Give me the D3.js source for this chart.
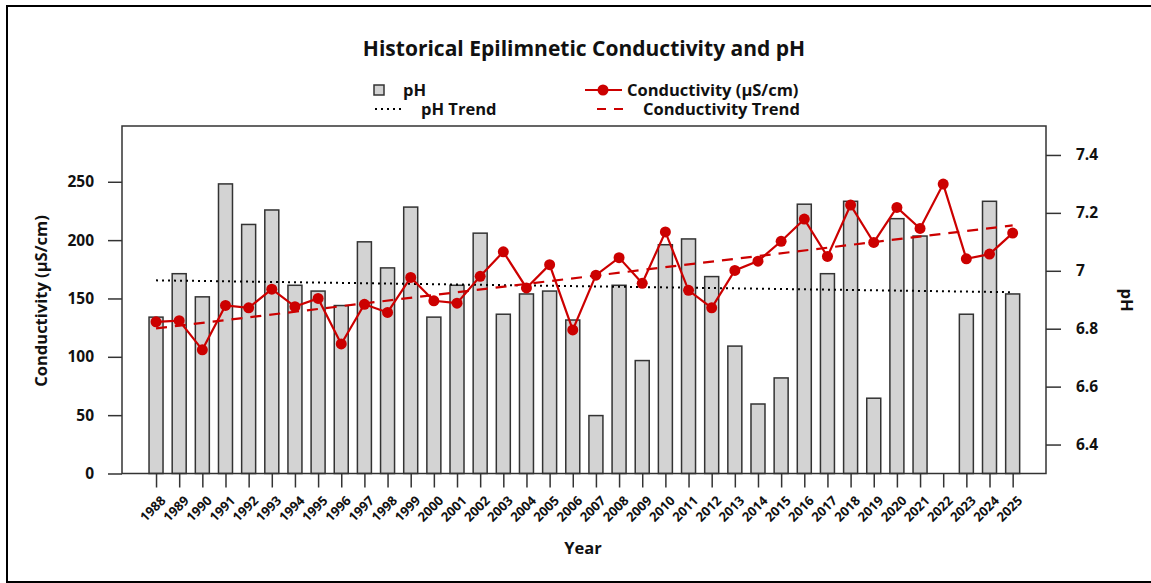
<!DOCTYPE html>
<html>
<head>
<meta charset="utf-8">
<script src="https://cdn.jsdelivr.net/npm/d3@7"></script>
<style>
  body { margin: 0; background: #fff; }
  text { font-family: "Open Sans", "Noto Sans", sans-serif; font-weight: bold; fill: #111; }
</style>
</head>
<body>
<div id="chart"></div>
<script>
// data
const years = d3.range(1988, 2026)
const ph = [6.84, 6.99, 6.91, 7.30, 7.16, 7.21, 6.95, 6.93, 6.88, 7.10, 7.01, 7.22, 6.84,
  6.95, 7.13, 6.85, 6.92, 6.93, 6.83, 6.50, 6.95, 6.69, 7.09, 7.11, 6.98, 6.74, 6.54,
  6.63, 7.23, 6.99, 7.24, 6.56, 7.18, 7.12, null, 6.85, 7.24, 6.92]
const conductivity = [130, 131, 106, 144, 142, 158, 143, 150, 111, 145, 138, 168, 148,
  146, 169, 190, 159, 179, 123, 170, 185, 163, 207, 157, 142, 174, 182,
  199, 218, 186, 230, 198, 228, 210, 248, 184, 188, 206]
// trend end points (1988 and 2025)
const trendYears = [1988, 2025]
const phTrend = [6.967, 6.926]
const condTrend = [124.3, 212.6]
const condTicks = [0, 50, 100, 150, 200, 250]
const phTicks = [6.4, 6.6, 6.8, 7, 7.2, 7.4]

const W = 1151, H = 583
const plot = {left: 122, right: 1046, top: 126, bottom: 473.5}
const red = "#cc0000", axisCol = "#333"

const svg = d3.select("#chart").append("svg")
  .attr("width", W).attr("height", H)

// outer frame
svg.append("rect")
  .attr("x", 7).attr("y", 6).attr("width", W).attr("height", H - 7)
  .attr("fill", "none").attr("stroke", "#000").attr("stroke-width", 2)

const x = d3.scaleLinear().domain([1986.53, 2026.44]).range([plot.left, plot.right])
const yC = d3.scaleLinear().domain([0, 297.8]).range([plot.bottom, plot.top])
const yP = d3.scaleLinear().domain([6.3, 7.5]).range([plot.bottom, plot.top])

// bars (pH)
const phData = years.map((y, i) => ({year: y, v: ph[i]})).filter(d => d.v != null)
svg.append("g").selectAll("rect")
  .data(phData)
  .join("rect")
    .attr("x", d => x(d.year) - 7)
    .attr("y", d => yP(d.v))
    .attr("width", 14)
    .attr("height", d => yP(6.3) - yP(d.v))
    .attr("fill", "#d3d3d3")
    .attr("stroke", axisCol)
    .attr("stroke-width", 1.5)

// pH trend
const trendLine = (sc, vals) => d3.line()
  .x((d, i) => x(trendYears[i]))
  .y(d => sc(d))(vals)

svg.append("path")
  .attr("d", trendLine(yP, phTrend))
  .attr("fill", "none").attr("stroke", "#000")
  .attr("stroke-width", 2).attr("stroke-dasharray", "2,4")

// conductivity trend
svg.append("path")
  .attr("d", trendLine(yC, condTrend))
  .attr("fill", "none").attr("stroke", red)
  .attr("stroke-width", 2.2).attr("stroke-dasharray", "11,8")

// conductivity line + points
const condData = years.map((y, i) => ({year: y, v: conductivity[i]}))
svg.append("path")
  .datum(condData)
  .attr("d", d3.line().x(d => x(d.year)).y(d => yC(d.v)))
  .attr("fill", "none").attr("stroke", red).attr("stroke-width", 2.2)

svg.append("g").selectAll("circle")
  .data(condData)
  .join("circle")
    .attr("cx", d => x(d.year))
    .attr("cy", d => yC(d.v))
    .attr("r", 5.5)
    .attr("fill", red)

// plot box
svg.append("rect")
  .attr("x", plot.left).attr("y", plot.top)
  .attr("width", plot.right - plot.left).attr("height", plot.bottom - plot.top)
  .attr("fill", "none").attr("stroke", axisCol).attr("stroke-width", 1.5)

// axes
const styleAxis = g => {
  g.select(".domain").remove()
  g.selectAll(".tick line").attr("stroke", axisCol).attr("stroke-width", 1.5)
  g.selectAll(".tick text").attr("fill", "#111")
}

svg.append("g")
  .attr("transform", `translate(${plot.left},0)`)
  .call(d3.axisLeft(yC).tickValues(condTicks).tickSize(14).tickPadding(14))
  .call(styleAxis)
  .selectAll(".tick text").style("font-size", "15.5px")

svg.append("g")
  .attr("transform", `translate(${plot.right},0)`)
  .call(d3.axisRight(yP).tickValues(phTicks).tickFormat(d => d).tickSize(15).tickPadding(15))
  .call(styleAxis)
  .selectAll(".tick text").style("font-size", "15.5px")

const xAxis = svg.append("g")
  .attr("transform", `translate(0,${plot.bottom})`)
  .call(d3.axisBottom(x).tickValues(years).tickFormat(d3.format("d")).tickSize(14))
  .call(styleAxis)
xAxis.selectAll(".tick text")
  .style("font-size", "13px")
  .attr("text-anchor", "end")
  .attr("y", 0).attr("dy", 0)
  .attr("transform", "translate(10,28) rotate(-45)")

// titles
svg.append("text")
  .attr("x", 584).attr("y", 56)
  .attr("text-anchor", "middle")
  .style("font-size", "21px")
  .text("Historical Epilimnetic Conductivity and pH")

svg.append("text")
  .attr("x", 583).attr("y", 554)
  .attr("text-anchor", "middle")
  .style("font-size", "16.5px")
  .text("Year")

svg.append("text")
  .attr("transform", "translate(47,301) rotate(-90)")
  .attr("text-anchor", "middle")
  .style("font-size", "16.5px")
  .text("Conductivity (µS/cm)")

svg.append("text")
  .attr("transform", "translate(1121,300) rotate(90)")
  .attr("text-anchor", "middle")
  .style("font-size", "16.5px")
  .text("pH")

// legend
const lg = svg.append("g").style("font-size", "16.5px")
lg.append("rect").attr("x", 374).attr("y", 85).attr("width", 10).attr("height", 10)
  .attr("fill", "#d3d3d3").attr("stroke", axisCol).attr("stroke-width", 1.5)
lg.append("text").attr("x", 403).attr("y", 96).text("pH")

lg.append("line").attr("x1", 375).attr("x2", 404).attr("y1", 109).attr("y2", 109)
  .attr("stroke", "#000").attr("stroke-width", 2).attr("stroke-dasharray", "2,4")
lg.append("text").attr("x", 421).attr("y", 115).text("pH Trend")

lg.append("line").attr("x1", 585).attr("x2", 622).attr("y1", 90).attr("y2", 90)
  .attr("stroke", red).attr("stroke-width", 2.2)
lg.append("circle").attr("cx", 603).attr("cy", 90).attr("r", 5.5).attr("fill", red)
lg.append("text").attr("x", 627).attr("y", 96).text("Conductivity (µS/cm)")

lg.append("line").attr("x1", 597).attr("x2", 624).attr("y1", 109).attr("y2", 109)
  .attr("stroke", red).attr("stroke-width", 2.2).attr("stroke-dasharray", "9,8")
lg.append("text").attr("x", 643).attr("y", 115).text("Conductivity Trend")
</script>
</body>
</html>
